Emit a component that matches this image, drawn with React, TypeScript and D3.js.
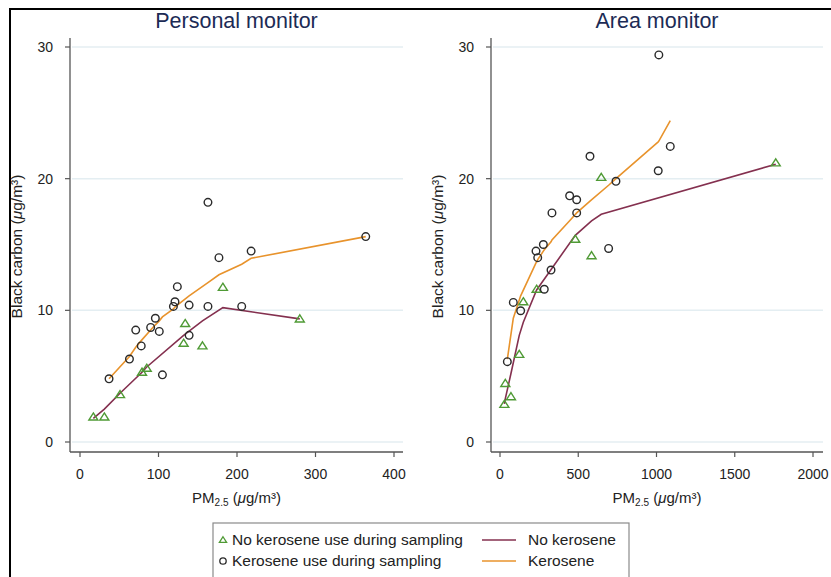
import React from "react";
import * as d3 from "d3";

// ---------- data ----------
const panelTitles = ["Personal monitor", "Area monitor"];
const yTicks = [0, 10, 20, 30];
const xTicksPersonal = [0, 100, 200, 300, 400];
const xTicksArea = [0, 500, 1000, 1500, 2000];

// Personal monitor: kerosene use during sampling (circles)
const personalKeroPts: [number, number][] = [
  [37, 4.8], [63, 6.3], [71, 8.5], [78, 7.3], [90, 8.7], [96, 9.4], [101, 8.4],
  [105, 5.1], [119, 10.3], [121, 10.65], [124, 11.8], [139, 10.4], [139, 8.1],
  [163, 10.3], [163, 18.2], [177, 14.0], [206, 10.3], [218, 14.5], [364, 15.6],
];
// Personal monitor: no kerosene use (triangles)
const personalNoKeroPts: [number, number][] = [
  [17, 1.9], [31, 1.9], [51, 3.6], [79, 5.3], [85, 5.6], [132, 7.5], [134, 9.0],
  [156, 7.3], [182, 11.75], [280, 9.35],
];
// Personal monitor smoothed lines
const personalKeroFit: [number, number][] = [
  [37, 4.8], [63, 6.5], [71, 7.2], [78, 7.7], [90, 8.5], [96, 8.9], [101, 9.2],
  [105, 9.5], [119, 10.1], [121, 10.25], [124, 10.4], [139, 11.1], [163, 12.1],
  [177, 12.7], [206, 13.5], [218, 13.95], [364, 15.6],
];
const personalNoKeroFit: [number, number][] = [
  [17, 1.8], [31, 2.5], [51, 3.7], [79, 5.3], [85, 5.7], [132, 8.1], [134, 8.2],
  [156, 9.2], [182, 10.2], [280, 9.35],
];

// Area monitor: kerosene use (circles)
const areaKeroPts: [number, number][] = [
  [47, 6.1], [85, 10.6], [132, 9.97], [230, 14.5], [241, 14.0], [277, 15.0],
  [283, 11.6], [326, 13.06], [332, 17.4], [445, 18.7], [490, 18.4], [490, 17.4],
  [575, 21.7], [694, 14.7], [741, 19.8], [1011, 20.6], [1015, 29.4], [1088, 22.45],
];
// Area monitor: no kerosene (triangles)
const areaNoKeroPts: [number, number][] = [
  [28, 2.86], [34, 4.45], [70, 3.44], [123, 6.66], [149, 10.65], [234, 11.6],
  [481, 15.4], [585, 14.15], [647, 20.1], [1762, 21.2],
];
const areaKeroFit: [number, number][] = [
  [47, 6.3], [85, 9.4], [132, 11.1], [230, 13.6], [241, 13.85], [277, 14.5],
  [283, 14.6], [326, 15.2], [332, 15.35], [445, 16.8], [490, 17.4], [575, 18.3],
  [694, 19.5], [741, 20.0], [1011, 22.8], [1015, 22.85], [1088, 24.4],
];
const areaNoKeroFit: [number, number][] = [
  [28, 2.9], [34, 3.3], [70, 5.2], [123, 8.1], [149, 9.1], [234, 11.55],
  [481, 15.7], [585, 16.8], [647, 17.3], [1762, 21.1],
];

const legendLabels = [
  "No kerosene use during sampling",
  "Kerosene use during sampling",
  "No kerosene",
  "Kerosene",
];

// ---------- styles ----------
const FONT = "'Liberation Sans', Arial, Helvetica, sans-serif";
const C_NOKERO = "#84304f";
const C_KERO = "#e8932c";
const C_TRI = "#4f9a35";
const C_CIRC = "#2a2a2a";
const C_GRID = "#e4eef2";
const C_AXIS = "#555";
const C_TEXT = "#222";
const C_TITLE = "#1c2b55";

type PanelProps = {
  title: string;
  xDomain: [number, number];
  xRange: [number, number];
  xTicks: number[];
  axisX0: number;
  axisX1: number;
  kero: [number, number][];
  noKero: [number, number][];
  keroFit: [number, number][];
  noKeroFit: [number, number][];
};

const yScale = d3.scaleLinear().domain([0, 30]).range([442, 47]);
const AXIS_Y = 452;

function triPath(cx: number, cy: number, s = 4.5) {
  const h = s * 0.9;
  return `M${cx},${cy - h}L${cx + s},${cy + h * 0.75}L${cx - s},${cy + h * 0.75}Z`;
}

function Panel(p: PanelProps) {
  const x = d3.scaleLinear().domain(p.xDomain).range(p.xRange);
  const line = d3
    .line<[number, number]>()
    .x((d) => x(d[0]))
    .y((d) => yScale(d[1]));
  const midX = (p.axisX0 + p.axisX1) / 2;
  return (
    <g>
      <text x={midX} y={28} textAnchor="middle" fontSize={21.5} fill={C_TITLE} fontFamily={FONT}>
        {p.title}
      </text>
      {yTicks.map((t) => (
        <line key={"g" + t} x1={p.axisX0 + 2} x2={p.axisX1} y1={yScale(t)} y2={yScale(t)} stroke={C_GRID} strokeWidth={1.5} />
      ))}
      <line x1={p.axisX0} x2={p.axisX0} y1={38} y2={AXIS_Y} stroke={C_AXIS} strokeWidth={1.3} />
      <line x1={p.axisX0} x2={p.axisX1} y1={AXIS_Y} y2={AXIS_Y} stroke={C_AXIS} strokeWidth={1.3} />
      {yTicks.map((t) => (
        <g key={"yt" + t}>
          <line x1={p.axisX0 - 5} x2={p.axisX0} y1={yScale(t)} y2={yScale(t)} stroke={C_AXIS} strokeWidth={1.2} />
          <text x={p.axisX0 - 17} y={yScale(t) + 5} textAnchor="end" fontSize={14} fill={C_TEXT} fontFamily={FONT}>
            {t}
          </text>
        </g>
      ))}
      {p.xTicks.map((t) => (
        <g key={"xt" + t}>
          <line x1={x(t)} x2={x(t)} y1={AXIS_Y} y2={AXIS_Y + 5} stroke={C_AXIS} strokeWidth={1.2} />
          <text x={x(t)} y={AXIS_Y + 27} textAnchor="middle" fontSize={14} fill={C_TEXT} fontFamily={FONT}>
            {t}
          </text>
        </g>
      ))}
      <text
        transform={`translate(${p.axisX0 - 48},${yScale(15) + 2}) rotate(-90)`}
        textAnchor="middle"
        fontSize={15.5}
        fill={C_TEXT}
        fontFamily={FONT}
      >
        Black carbon (<tspan fontStyle="italic">μ</tspan>g/m³)
      </text>
      <text x={midX} y={503} textAnchor="middle" fontSize={15} fill={C_TEXT} fontFamily={FONT}>
        PM<tspan fontSize={10} dy={3}>2.5</tspan>
        <tspan dy={-3}> (</tspan>
        <tspan fontStyle="italic">μ</tspan>g/m³)
      </text>
      <path d={line(p.noKeroFit) || ""} fill="none" stroke={C_NOKERO} strokeWidth={1.6} />
      <path d={line(p.keroFit) || ""} fill="none" stroke={C_KERO} strokeWidth={1.6} />
      {p.noKero.map((d, i) => (
        <path key={"tr" + i} d={triPath(x(d[0]), yScale(d[1]))} fill="none" stroke={C_TRI} strokeWidth={1.4} />
      ))}
      {p.kero.map((d, i) => (
        <circle key={"c" + i} cx={x(d[0])} cy={yScale(d[1])} r={3.8} fill="none" stroke={C_CIRC} strokeWidth={1.4} />
      ))}
    </g>
  );
}

export default function App() {
  return (
    <svg
      width={831}
      height={577}
      style={{ position: "absolute", left: 0, top: 0, background: "#fff" }}
    >
      <rect x={0} y={0} width={831} height={577} fill="#fff" />
      <Panel
        title={panelTitles[0]}
        xDomain={[0, 400]}
        xRange={[80, 394]}
        xTicks={xTicksPersonal}
        axisX0={70}
        axisX1={403}
        kero={personalKeroPts}
        noKero={personalNoKeroPts}
        keroFit={personalKeroFit}
        noKeroFit={personalNoKeroFit}
      />
      <Panel
        title={panelTitles[1]}
        xDomain={[0, 2000]}
        xRange={[500, 813]}
        xTicks={xTicksArea}
        axisX0={491}
        axisX1={823}
        kero={areaKeroPts}
        noKero={areaNoKeroPts}
        keroFit={areaKeroFit}
        noKeroFit={areaNoKeroFit}
      />
      {/* legend */}
      <rect x={213} y={523} width={416} height={70} fill="#fff" stroke="#8a8a8a" strokeWidth={1.2} />
      <path d={triPath(223, 540, 3.6)} fill="none" stroke={C_TRI} strokeWidth={1.3} />
      <text x={232} y={545} fontSize={15.5} fill={C_TEXT} fontFamily={FONT}>{legendLabels[0]}</text>
      <circle cx={223} cy={561} r={3.2} fill="none" stroke={C_CIRC} strokeWidth={1.3} />
      <text x={232} y={566} fontSize={15.5} fill={C_TEXT} fontFamily={FONT}>{legendLabels[1]}</text>
      <line x1={482} x2={516} y1={540} y2={540} stroke={C_NOKERO} strokeWidth={1.6} />
      <text x={528} y={545} fontSize={15.5} fill={C_TEXT} fontFamily={FONT}>{legendLabels[2]}</text>
      <line x1={482} x2={516} y1={561} y2={561} stroke={C_KERO} strokeWidth={1.6} />
      <text x={528} y={566} fontSize={15.5} fill={C_TEXT} fontFamily={FONT}>{legendLabels[3]}</text>
      {/* outer frame */}
      <rect x={10} y={9} width={840} height={600} fill="none" stroke="#000" strokeWidth={2} />
    </svg>
  );
}
